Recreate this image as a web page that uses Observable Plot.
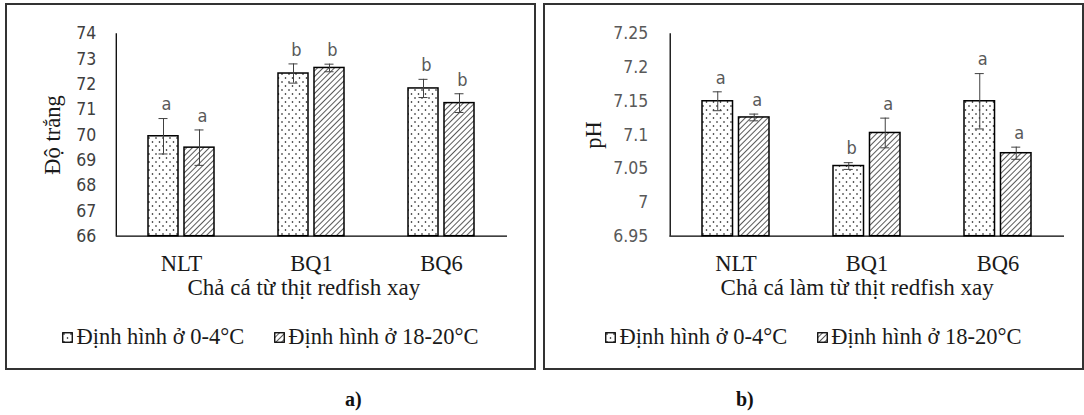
<!DOCTYPE html>
<html><head><meta charset="utf-8">
<script src="https://cdn.jsdelivr.net/npm/d3@7"></script>
<script src="https://cdn.jsdelivr.net/npm/@observablehq/plot@0.6"></script>
<style>
body{margin:0;background:#fff;}
#page{position:relative;width:1084px;height:415px;overflow:hidden;background:#fff;}
.panel{position:absolute;box-sizing:border-box;border:2px solid #333;pointer-events:none;}
.chart{position:absolute;top:0;}
.legend{position:absolute;display:flex;justify-content:center;align-items:center;gap:30px;font-family:"Liberation Serif",serif;font-size:22.5px;color:#1a1a1a;height:26px;white-space:nowrap;}
.item{display:flex;align-items:center;}
.sw{width:11px;height:11px;margin-right:3px;display:block;}
.tag{position:absolute;font-family:"Liberation Serif",serif;font-weight:bold;font-size:20px;color:#111;}
</style></head><body>
<svg width="0" height="0" style="position:absolute">
  <defs>
    <pattern id="dots" width="7" height="8" patternUnits="userSpaceOnUse">
      <rect width="7" height="8" fill="#fff"/>
      <circle cx="2" cy="2" r="0.8" fill="#000"/>
      <circle cx="5.5" cy="6" r="0.8" fill="#000"/>
    </pattern>
    <pattern id="hatch" width="4" height="4" patternUnits="userSpaceOnUse" patternTransform="rotate(45)">
      <rect width="4" height="4" fill="#fff"/>
      <line x1="0" y1="0" x2="0" y2="4" stroke="#000" stroke-width="1.3"/>
    </pattern>
  </defs>
</svg>
<div id="page">
  <div id="left" class="chart" style="left:0"></div>
  <div id="right" class="chart" style="left:540px"></div>
  <div class="panel" style="left:5px;top:3px;width:531px;height:367px"></div>
  <div class="panel" style="left:543px;top:3px;width:541px;height:367px"></div>
  <div class="legend" id="legL" style="left:5px;width:531px;top:324px"></div>
  <div class="legend" id="legR" style="left:543px;width:541px;top:324px"></div>
  <div class="tag" style="left:345px;top:388px">a)</div>
  <div class="tag" style="left:736px;top:388px">b)</div>
</div>
<script>
// ---- data ----
const categories = ["NLT", "BQ1", "BQ6"];
const seriesNames = ["Định hình ở 0-4°C", "Định hình ở 18-20°C"];

const whiteCold = [69.95, 72.43, 71.84];
const whiteColdErr = [0.7, 0.38, 0.36];
const whiteColdLetters = ["a", "b", "b"];
const whiteWarm = [69.5, 72.65, 71.26];
const whiteWarmErr = [0.7, 0.15, 0.37];
const whiteWarmLetters = ["a", "b", "b"];
const whiteTicks = [66, 67, 68, 69, 70, 71, 72, 73, 74];

const phCold = [7.150, 7.054, 7.150];
const phColdErr = [0.014, 0.005, 0.041];
const phColdLetters = ["a", "b", "a"];
const phWarm = [7.126, 7.103, 7.073];
const phWarmErr = [0.005, 0.022, 0.009];
const phWarmLetters = ["a", "a", "a"];
const phTicks = [6.95, 7.0, 7.05, 7.1, 7.15, 7.2, 7.25];

const titleWhiteY = "Độ trắng";
const titleWhiteX = "Chả cá từ thịt redfish xay";
const titlePhY = "pH";
const titlePhX = "Chả cá làm từ thịt redfish xay";

function rowsOf(vals, errs, letters) {
  return categories.map((c, i) => ({cat: c, v: vals[i], e: errs[i], l: letters[i]}));
}

function makeChart(cfg) {
  const {width, height, ml, mr, mt, mb, pad, ticks, fmt, cold, warm, yTitle, xTitle, yTitleDx, xTitleDx, tickPad, tickColor} = cfg;
  const yMin = ticks[0], yMax = ticks[ticks.length - 1];
  const step = (width - ml - mr) / categories.length;
  const bw = step * (1 - pad);
  const barW = (bw - 6) / 2;
  const off = bw / 2 - barW / 2;
  const serif = "Liberation Serif";
  const sans = "DejaVu Sans Condensed";
  const marks = [];
  const series = [
    {rows: cold, fill: "url(#dots)", insetLeft: 0, insetRight: bw - barW, dx: -off},
    {rows: warm, fill: "url(#hatch)", insetLeft: bw - barW, insetRight: 0, dx: off}
  ];
  for (const s of series) {
    marks.push(Plot.barY(s.rows, {x: "cat", y1: yMin, y2: "v", fill: s.fill, stroke: "#000", strokeWidth: 1.5,
      insetLeft: s.insetLeft, insetRight: s.insetRight}));
  }
  for (const s of series) {
    const cx = s.dx < 0 ? barW / 2 : bw - barW / 2;
    marks.push(Plot.ruleX(s.rows, {x: "cat", y1: d => d.v - d.e, y2: d => d.v + d.e, dx: s.dx, stroke: "#404040", strokeWidth: 1}));
    marks.push(Plot.tickY(s.rows, {x: "cat", y: d => d.v + d.e, insetLeft: cx - 4.5, insetRight: bw - cx - 4.5, stroke: "#404040", strokeWidth: 1}));
    marks.push(Plot.tickY(s.rows, {x: "cat", y: d => d.v - d.e, insetLeft: cx - 4.5, insetRight: bw - cx - 4.5, stroke: "#404040", strokeWidth: 1}));
    marks.push(Plot.text(s.rows, {x: "cat", y: d => d.v + d.e, text: "l", dx: s.dx + 3, dy: -14, fill: "#595959", fontSize: 18, fontFamily: sans}));
  }
  marks.push(Plot.ruleY([yMin], {stroke: "#000", strokeWidth: 1.3}));
  marks.push(Plot.ruleX([categories[0]], {dx: -step / 2, stroke: "#000", strokeWidth: 1.3}));
  marks.push(Plot.axisY({ticks, tickFormat: fmt, tickSize: 0, tickPadding: tickPad, fontSize: 17.5, fontFamily: sans, fill: tickColor, label: null}));
  marks.push(Plot.axisX({tickSize: 0, tickPadding: 19, fontSize: 22.5, fontFamily: serif, fill: "#1a1a1a", label: null}));
  marks.push(Plot.text([yTitle], {frameAnchor: "left", textAnchor: "middle", rotate: -90, dx: yTitleDx, fontSize: 22.5, fontFamily: serif, fill: "#1a1a1a"}));
  marks.push(Plot.text([xTitle], {frameAnchor: "bottom", textAnchor: "middle", dx: xTitleDx, dy: 59, fontSize: 23, fontFamily: serif, fill: "#1a1a1a"}));
  return Plot.plot({
    width, height, marginLeft: ml, marginRight: mr, marginTop: mt, marginBottom: mb,
    style: {background: "transparent", overflow: "visible"},
    x: {domain: categories, paddingInner: pad, paddingOuter: pad / 2, label: null, axis: null},
    y: {domain: [yMin, yMax], label: null, axis: null},
    marks
  });
}

document.getElementById("left").append(makeChart({
  width: 540, height: 310, ml: 115.7, mr: 33, mt: 33.3, mb: 310 - 235.7, pad: 0.494,
  ticks: whiteTicks, fmt: d => String(d),
  cold: rowsOf(whiteCold, whiteColdErr, whiteColdLetters),
  warm: rowsOf(whiteWarm, whiteWarmErr, whiteWarmLetters),
  yTitle: titleWhiteY, xTitle: titleWhiteX, yTitleDx: -63, xTitleDx: -8, tickPad: 20, tickColor: "#404040"
}));
document.getElementById("right").append(makeChart({
  width: 544, height: 310, ml: 129.3, mr: 20, mt: 33.3, mb: 310 - 235.7, pad: 0.491,
  ticks: phTicks, fmt: d => String(+d.toFixed(2)),
  cold: rowsOf(phCold, phColdErr, phColdLetters),
  warm: rowsOf(phWarm, phWarmErr, phWarmLetters),
  yTitle: titlePhY, xTitle: titlePhX, yTitleDx: -76, xTitleDx: -10, tickPad: 21.6, tickColor: "#595959"
}));

function legend(el) {
  const fills = ["url(#dots)", "url(#hatch)"];
  seriesNames.forEach((name, i) => {
    const item = document.createElement("div");
    item.className = "item";
    item.innerHTML = `<svg class="sw" viewBox="0 0 11 11"><rect x="0.75" y="0.75" width="9.5" height="9.5" fill="${fills[i]}" stroke="#000" stroke-width="1.3"/></svg><span>${name}</span>`;
    el.append(item);
  });
}
legend(document.getElementById("legL"));
legend(document.getElementById("legR"));
</script>
</body></html>
